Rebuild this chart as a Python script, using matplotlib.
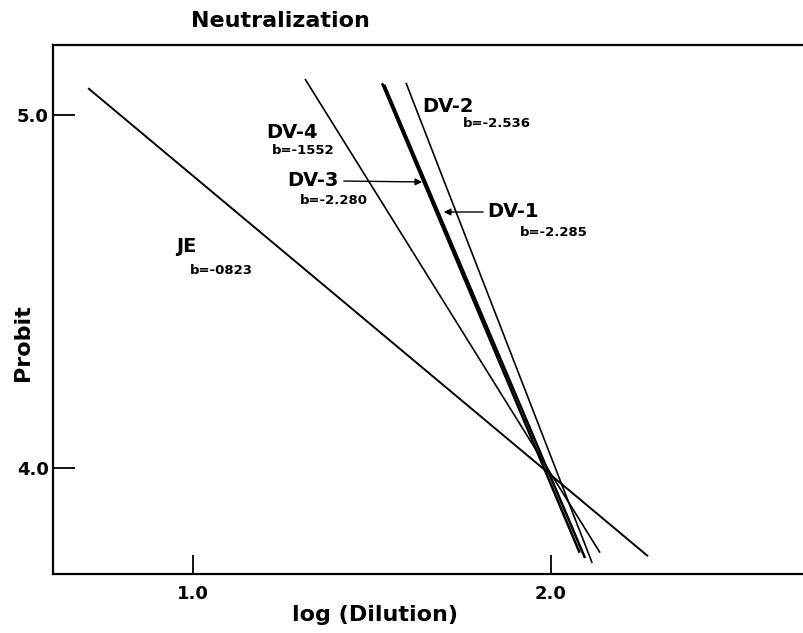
import matplotlib
matplotlib.use("Agg")
import matplotlib.pyplot as plt

# Data: straight probit regression lines, given by their end points
series = ["JE", "DV-4", "DV-3", "DV-1", "DV-2"]
x_start = [0.707, 1.313, 1.528, 1.534, 1.595]
y_start = [5.076, 5.102, 5.090, 5.086, 5.091]
x_end = [2.271, 2.137, 2.080, 2.095, 2.115]
y_end = [3.750, 3.760, 3.760, 3.745, 3.731]
widths = [1.4, 1.2, 1.8, 1.8, 1.2]

slopes = ["b=-0823", "b=-1552", "b=-2.280", "b=-2.285", "b=-2.536"]

x_ticks = [1.0, 2.0]
x_tick_labels = ["1.0", "2.0"]
y_ticks = [4.0, 5.0]
y_tick_labels = ["4.0", "5.0"]

plt.rcParams['font.family'] = ['DejaVu Sans']

fig = plt.figure(figsize=(8.04, 6.33), dpi=100)
W, H = 804, 633
left_px, right_px, top_px, bottom_px = 53, 804, 45, 574
ax = fig.add_axes([left_px / W, 1 - bottom_px / H, (right_px - left_px) / W, (bottom_px - top_px) / H])

# pixel->data mapping: x 1.0 at 193px, 2.0 at 551px; y 5.0 at 115px, 4.0 at 468px
px_per_x = 551 - 193
px_per_y = 468 - 115
ax.set_xlim(1 + (left_px - 193) / px_per_x, 1 + (right_px - 193) / px_per_x)
ax.set_ylim(4 - (bottom_px - 468) / px_per_y, 5 + (115 - top_px) / px_per_y)

for xs, ys, xe, ye, lw in zip(x_start, y_start, x_end, y_end, widths):
    ax.plot([xs, xe], [ys, ye], color="black", lw=lw, solid_capstyle="butt")

ax.spines['right'].set_visible(False)
for s in ['left', 'bottom', 'top']:
    ax.spines[s].set_linewidth(1.6)

ax.set_xticks(x_ticks)
ax.set_xticklabels(x_tick_labels, fontsize=13, fontweight='bold')
ax.set_yticks(y_ticks)
ax.set_yticklabels(y_tick_labels, fontsize=13, fontweight='bold')
ax.tick_params(axis='x', direction='in', length=14, width=1.3, pad=8)
ax.tick_params(axis='y', direction='in', length=16, width=1.3, pad=3)

ax.set_xlabel("log (Dilution)", fontsize=16, fontweight='bold')
ax.xaxis.set_label_coords((375 - left_px) / (right_px - left_px), -(615 - bottom_px) / (bottom_px - top_px))
ax.xaxis.label.set_va('center')
ax.set_ylabel("Probit", fontsize=16, fontweight='bold')
ax.yaxis.set_label_coords(-(left_px - 23) / (right_px - left_px), (bottom_px - 343) / (bottom_px - top_px))
ax.yaxis.label.set_va('center')
fig.text(280 / W, 1 - 21 / H, "Neutralization", fontsize=16, fontweight='bold', ha='center', va='center')

def px(x, y):
    return (1 + (x - 193) / px_per_x, 5 + (115 - y) / px_per_y)

big = dict(fontsize=14, fontweight='bold', va='center')
small = dict(fontsize=9.5, fontweight='bold', va='center')

# JE
ax.text(*px(176, 247), series[0], ha='left', **big)
ax.text(*px(190, 270), slopes[0], ha='left', **small)
# DV-4
ax.text(*px(266, 132), series[1], ha='left', **big)
ax.text(*px(272, 150), slopes[1], ha='left', **small)
# DV-3 with arrow
ax.text(*px(287, 181), series[2], ha='left', **big)
ax.text(*px(300, 200), slopes[2], ha='left', **small)
ax.annotate("", xy=px(425, 182), xytext=px(341, 181),
            arrowprops=dict(arrowstyle='-|>', color='black', lw=1.0, mutation_scale=10))
# DV-1 with arrow
ax.text(*px(487, 212), series[3], ha='left', **big)
ax.text(*px(520, 232), slopes[3], ha='left', **small)
ax.annotate("", xy=px(441, 212), xytext=px(486, 212),
            arrowprops=dict(arrowstyle='-|>', color='black', lw=1.0, mutation_scale=10))
# DV-2
ax.text(*px(422, 107), series[4], ha='left', **big)
ax.text(*px(463, 123), slopes[4], ha='left', **small)

fig.savefig("out.png", dpi=100)
